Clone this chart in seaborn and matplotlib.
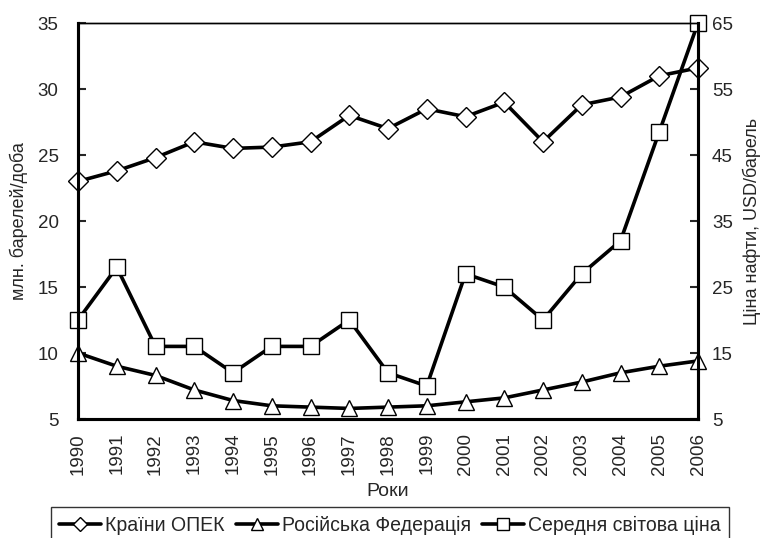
import numpy as np
import pandas as pd
import seaborn as sns
import matplotlib
matplotlib.use('Agg')
from matplotlib import pyplot as plt
from matplotlib import font_manager
from matplotlib.lines import Line2D

years = list(range(1990, 2007))
opec = [23.0, 23.8, 24.8, 26.0, 25.5, 25.6, 26.0, 28.0, 27.0, 28.5, 27.9, 29.0, 26.0, 28.8, 29.4, 31.0, 31.6]
russia = [10.0, 9.0, 8.3, 7.2, 6.4, 6.0, 5.9, 5.8, 5.9, 6.0, 6.3, 6.6, 7.2, 7.8, 8.5, 9.0, 9.4]
price = [20, 28, 16, 16, 12, 16, 16, 20, 12, 10, 27, 25, 20, 27, 32, 48.5, 65]

labels = ['Країни ОПЕК', 'Російська Федерація', 'Середня світова ціна']
left_label = 'млн. барелей/доба'
right_label = 'Ціна нафти, USD/барель'
x_label = 'Роки'

df = pd.DataFrame({'year': years, 'opec': opec, 'russia': russia, 'price': price})

sns.set_style('white')
plt.rcParams['font.family'] = ['Liberation Sans', 'DejaVu Sans']

names = {f.name for f in font_manager.fontManager.ttflist}
narrow = 'Liberation Sans Narrow' if 'Liberation Sans Narrow' in names else 'Liberation Sans'

fig = plt.figure(figsize=(7.69, 5.38), dpi=100, facecolor='white')
ax = fig.add_axes([78 / 769, 1 - 419 / 538, 620 / 769, 396 / 538])
ax2 = ax.twinx()

style = dict(color='black', linewidth=2.6, markersize=12, markerfacecolor='white',
             markeredgecolor='black', markeredgewidth=1.0, clip_on=False)

sns.lineplot(data=df, x='year', y='opec', ax=ax, marker='D', **{**style, 'markersize': 10.5})
sns.lineplot(data=df, x='year', y='russia', ax=ax, marker='^', **style)
sns.lineplot(data=df, x='year', y='price', ax=ax2, marker='s', **style)
ax2.set_zorder(ax.get_zorder() - 1)
ax.patch.set_visible(False)

ax.set_xlim(1990, 2006)
ax.set_ylim(5, 35)
ax2.set_ylim(5, 65)
ax.set_xticks(years)
ax.set_xticklabels([str(y) for y in years], rotation=90, fontsize=13.5)
ax.set_yticks(np.arange(5, 36, 5))
ax2.set_yticks(np.arange(5, 66, 10))
ax.tick_params(axis='y', direction='in', length=6, width=1.5, labelsize=13.5, pad=14)
ax.tick_params(axis='x', direction='in', length=6, width=1.5, labelsize=13.5, pad=10)
ax2.tick_params(axis='y', direction='in', length=6, width=1.5, labelsize=13.5, pad=10)

ax.set_xlabel(x_label, fontsize=14, labelpad=6)
ax.set_ylabel(left_label, fontsize=13, labelpad=7)
ax2.set_ylabel(right_label, fontsize=13, labelpad=7)

for a in (ax, ax2):
    for side in ['left', 'right', 'bottom']:
        a.spines[side].set_linewidth(2.2)
        a.spines[side].set_color('black')
    a.spines['top'].set_linewidth(1.0)
    a.spines['top'].set_color('black')

# pick a legend font size so the middle label is ~190 px wide, as in the reference
renderer = fig.canvas.get_renderer()
probe = fig.text(0, 0, labels[1], family=[narrow, 'DejaVu Sans'], fontsize=14)
w = probe.get_window_extent(renderer).width
probe.remove()
leg_size = 14 * 190 / w

handles = [
    Line2D([], [], color='black', lw=2.6, marker='D', markersize=7, markerfacecolor='white', markeredgecolor='black'),
    Line2D([], [], color='black', lw=2.6, marker='^', markersize=8, markerfacecolor='white', markeredgecolor='black'),
    Line2D([], [], color='black', lw=2.6, marker='s', markersize=8, markerfacecolor='white', markeredgecolor='black'),
]
hl = 30 / leg_size
leg = fig.legend(handles, labels, ncol=3, loc='upper center', bbox_to_anchor=(390 / 769, 1 - 507 / 538),
                 frameon=True, fancybox=False, edgecolor='black', handlelength=hl,
                 handletextpad=3 / leg_size, columnspacing=8 / leg_size, borderpad=0.45, borderaxespad=0,
                 prop={'family': [narrow, 'DejaVu Sans'], 'size': leg_size})
leg.get_frame().set_linewidth(1.0)

fig.savefig('out.png', dpi=100, facecolor='white')
